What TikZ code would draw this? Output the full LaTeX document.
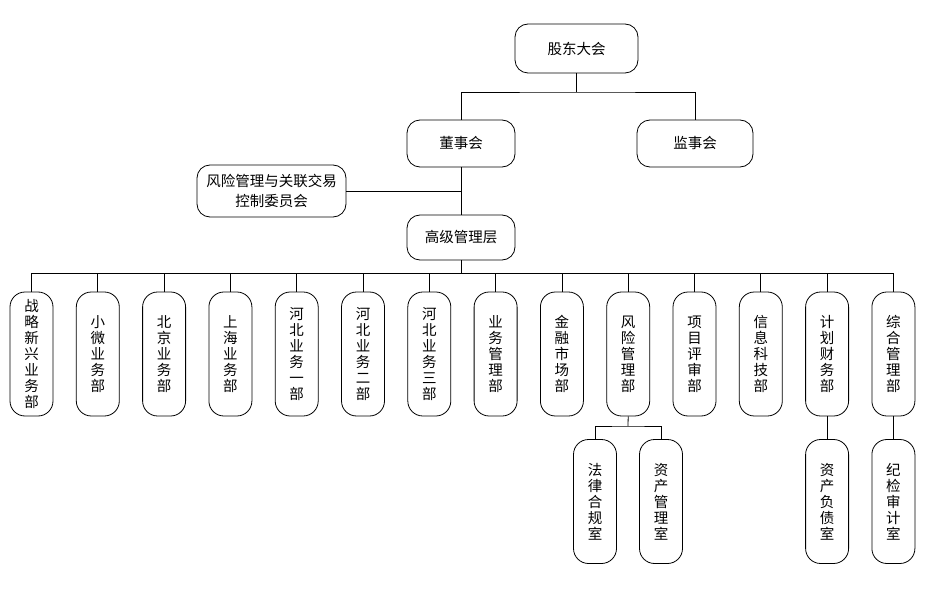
\documentclass[tikz,border=0pt]{standalone}
\usepackage{fontspec}
\newfontfamily\cjk{Noto Sans CJK SC}
\begin{document}
\begin{tikzpicture}[x=1pt,y=-1pt,
  box/.style={draw=black,line width=0.8pt,rounded corners=13pt,inner sep=0pt,align=center,
    font={\cjk\fontsize{14.5}{20}\selectfont}},
  vbox/.style={draw=black,line width=0.8pt,rounded corners=15pt,inner sep=0pt,align=center,
    minimum width=43pt,minimum height=124pt,font={\cjk\fontsize{14.5}{16}\selectfont}},
  conn/.style={draw=black,line width=0.8pt}]
\useasboundingbox (0,0) rectangle (943,591);
\fill[white] (0,0) rectangle (943,591);
% top
\node[box,minimum width=123pt,minimum height=49pt] (gd) at (576.5,48.5) {股东大会};
\node[box,minimum width=108pt,minimum height=47pt] (dsh) at (461,143.5) {董事会};
\node[box,minimum width=116pt,minimum height=47pt] (jsh) at (695,143.5) {监事会};
\node[box,minimum width=149pt,minimum height=52pt] (fx) at (271.5,191) {风险管理与关联交易\\控制委员会};
\node[box,minimum width=108pt,minimum height=45pt] (gj) at (461,237.5) {高级管理层};
\coordinate (b1) at (576.5,92);
\coordinate (b2) at (461,273);
\coordinate (b3) at (628,426);
\draw[conn] (gd.south) -- (b1);
\draw[conn] (dsh.north) |- (b1) -| (jsh.north);
\draw[conn] (dsh.south) -- (gj.north);
\draw[conn] (fx.east) -- (fx.east -| dsh.south);
\draw[conn] (gj.south) -- (b2);
% departments
\foreach \i/\t in {0/{战\\略\\新\\兴\\业\\务\\部},1/{小\\微\\业\\务\\部},2/{北\\京\\业\\务\\部},
  3/{上\\海\\业\\务\\部},4/{河\\北\\业\\务\\一\\部},5/{河\\北\\业\\务\\二\\部},6/{河\\北\\业\\务\\三\\部},
  7/{业\\务\\管\\理\\部},8/{金\\融\\市\\场\\部},9/{风\\险\\管\\理\\部},10/{项\\目\\评\\审\\部},
  11/{信\\息\\科\\技\\部},12/{计\\划\\财\\务\\部},13/{综\\合\\管\\理\\部}}{
  \node[vbox] (d\i) at ({31.5+66.3*\i},354) {\t};
  \draw[conn] (b2) -| (d\i.north);
}
% sub-units
\node[vbox] (s1) at (595,501.5) {法\\律\\合\\规\\室};
\node[vbox] (s2) at (661,501.5) {资\\产\\管\\理\\室};
\node[vbox] (s3) at (d12 |- s1) {资\\产\\负\\债\\室};
\node[vbox] (s4) at (d13 |- s1) {纪\\检\\审\\计\\室};
\draw[conn] (d9.south) -- (b3);
\draw[conn] (s1.north) |- (b3) -| (s2.north);
\draw[conn] (d12.south) -- (s3.north);
\draw[conn] (d13.south) -- (s4.north);
\end{tikzpicture}
\end{document}
